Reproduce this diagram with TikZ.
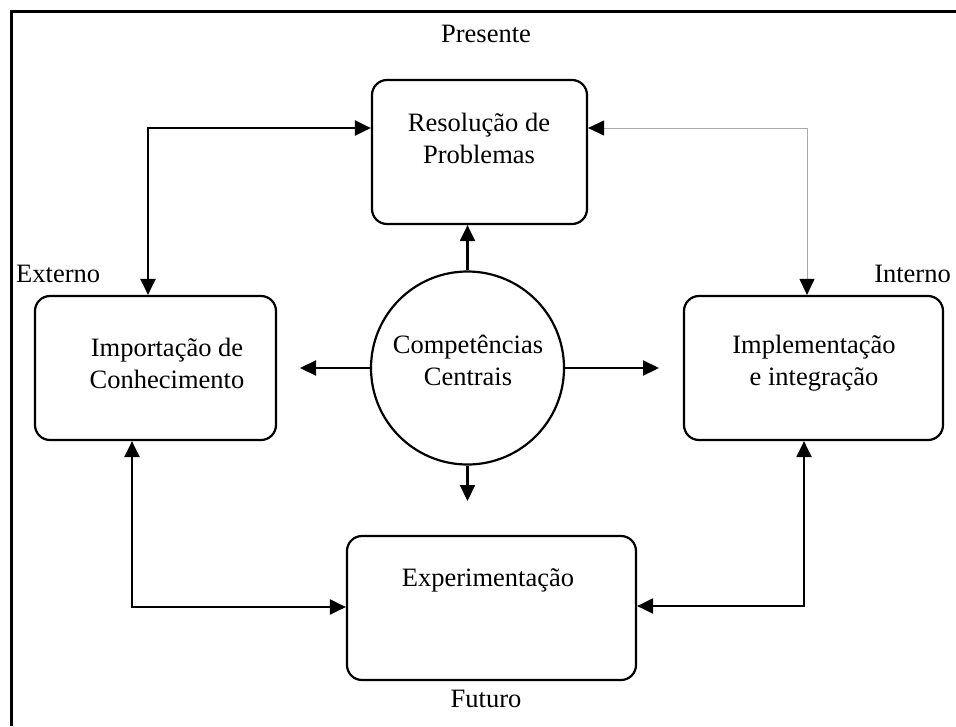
\documentclass[tikz,border=0pt]{standalone}
\usepackage{fontspec}
\setmainfont{Liberation Serif}
\usetikzlibrary{arrows.meta}
\definecolor{lgray}{RGB}{170,170,170}
\begin{document}
\begin{tikzpicture}[x=1pt,y=-1pt,
  every node/.style={font=\fontsize{26.5}{32}\selectfont},
  rbox/.style={draw,line width=2.2pt,rounded corners=15pt,inner sep=0pt},
  txt/.style={align=center,inner sep=0pt},
  tip/.style={-{Triangle[length=16pt,width=15pt]}},
  both/.style={{Triangle[length=16pt,width=15pt]}-{Triangle[length=16pt,width=15pt]}},
  conn/.style={line width=2.2pt},
  grayconn/.style={line width=1pt,draw=lgray,{Triangle[length=16pt,width=15pt,black]}-{Triangle[length=16pt,width=15pt,black]}}]
\useasboundingbox (0,0) rectangle (956,726);
% frame
\coordinate (fbl) at (11,726);
\coordinate (ftl) at (11,11);
\coordinate (ftr) at (956,11);
\draw[line width=3pt] (fbl) -- (ftl) -- (ftr);
% boxes
\node[rbox,minimum width=215pt,minimum height=144pt] (res) at (479.5,152) {};
\node[rbox,minimum width=241pt,minimum height=144pt] (imp) at (155.5,368) {};
\node[rbox,minimum width=259pt,minimum height=144pt] (impl) at (813.5,368) {};
\node[rbox,minimum width=289pt,minimum height=144pt] (exp) at (491.5,608) {};
\node[draw,circle,line width=2.2pt,minimum size=193pt,inner sep=0pt] (circ) at (467.5,368) {};
% box texts
\node[txt] (tres) at (479,138) {Resolução de\\Problemas};
\node[txt] (timp) at (167,363) {Importação de\\Conhecimento};
\node[txt] (timpl) at (814,363) {Implementação\\e integração};
\node[txt] (texp) at (488,580) {Experimentação};
\node[txt] (tcirc) at (468,360) {Competências\\Centrais};
% outer labels
\node[txt] (pres) at (486,34) {Presente};
\node[txt] (fut) at (486,699) {Futuro};
\node[txt,anchor=west] (ext) at (16,274) {Externo};
\node[txt,anchor=east] (intr) at (951,274) {Interno};
% connectors from circle
\coordinate (dwn) at (467.5,501);
\coordinate (lft) at (300,368);
\coordinate (rgt) at (659,368);
\draw[conn,tip] (circ.north) -- (circ.north |- res.south);
\draw[conn,tip] (circ.south) -- (dwn);
\draw[conn,tip] (circ.west) -- (lft);
\draw[conn,tip] (circ.east) -- (rgt);
% loop connectors
\coordinate (tl) at (148,128);
\coordinate (tr) at (807,128);
\coordinate (bl) at (132,607);
\coordinate (br) at (804,606);
\draw[conn,both] (imp.north -| tl) |- (res.west |- tl);
\draw[grayconn] (res.east |- tr) -| (impl.north -| tr);
\draw[conn,both] (imp.south -| bl) |- (exp.west |- bl);
\draw[conn,both] (impl.south -| br) |- (exp.east |- br);
\end{tikzpicture}
\end{document}
